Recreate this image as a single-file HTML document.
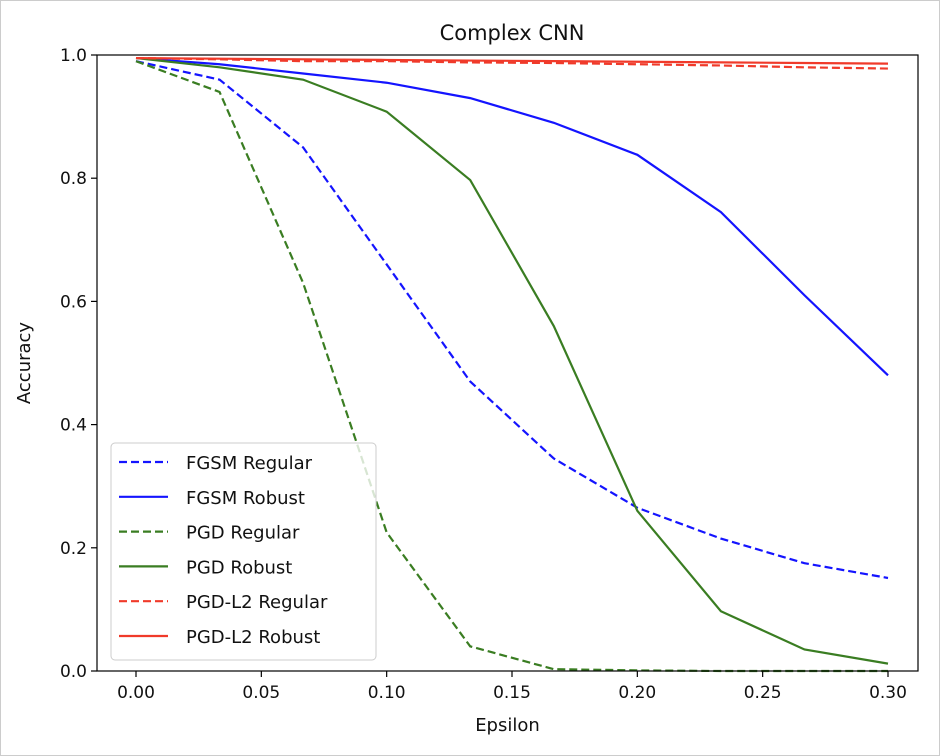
<!DOCTYPE html>
<html><head><meta charset="utf-8"><style>
body{margin:0;background:#fff}
svg{display:block;font-family:"DejaVu Sans","Liberation Sans",sans-serif}
</style></head><body>
<svg id="chart" width="940" height="756" xmlns="http://www.w3.org/2000/svg">
<rect x="0.5" y="0.5" width="939" height="755" fill="#fff" stroke="#ccc"/>
<text x="512" y="40" font-size="21" text-anchor="middle" fill="#111">Complex CNN</text>
<g id="plot"></g>
</svg>
<script>
const epsilons=[0,1/30,2/30,3/30,4/30,5/30,6/30,7/30,8/30,9/30];
const fgsmRegular=[0.99,0.96,0.85,0.66,0.47,0.345,0.265,0.215,0.175,0.151];
const fgsmRobust=[0.995,0.985,0.97,0.955,0.93,0.89,0.838,0.745,0.61,0.48];
const pgdRegular=[0.99,0.94,0.63,0.225,0.04,0.003,0.001,0,0,0];
const pgdRobust=[0.995,0.98,0.96,0.908,0.797,0.56,0.26,0.097,0.035,0.012];
const l2Regular=[0.995,0.993,0.99,0.99,0.988,0.987,0.985,0.983,0.98,0.978];
const l2Robust=[0.995,0.994,0.993,0.992,0.991,0.99,0.989,0.988,0.987,0.986];
const xTicks=[0,0.05,0.1,0.15,0.2,0.25,0.3];
const xTickLabels=["0.00","0.05","0.10","0.15","0.20","0.25","0.30"];
const yTicks=[0,0.2,0.4,0.6,0.8,1.0];
const yTickLabels=["0.0","0.2","0.4","0.6","0.8","1.0"];
const seriesNames=["FGSM Regular","FGSM Robust","PGD Regular","PGD Robust","PGD-L2 Regular","PGD-L2 Robust"];

const L=97,R=918,T=55,B=671;
const X=v=>136+v*(888-136)/0.3;
const Y=v=>B-v*(B-T);
const NS="http://www.w3.org/2000/svg";
const g=document.getElementById('plot');
function mk(t,a,txt){const e=document.createElementNS(NS,t);for(const k in a)e.setAttribute(k,a[k]);if(txt!==undefined)e.textContent=txt;g.appendChild(e);return e;}

const BLUE="#1414ff",GREEN="#3a7d22",RED="#f03a2a";
const series=[
 {d:fgsmRegular,c:BLUE,dash:true,n:'fgsm-regular-line'},
 {d:fgsmRobust,c:BLUE,dash:false,n:'fgsm-robust-line'},
 {d:pgdRegular,c:GREEN,dash:true,n:'pgd-regular-line'},
 {d:pgdRobust,c:GREEN,dash:false,n:'pgd-robust-line'},
 {d:l2Regular,c:RED,dash:true,n:'pgd-l2-regular-line'},
 {d:l2Robust,c:RED,dash:false,n:'pgd-l2-robust-line'}];
series.forEach(s=>{
 const p=mk('polyline',{points:s.d.map((v,i)=>X(epsilons[i])+','+Y(v)).join(' '),fill:'none',stroke:s.c,'stroke-width':2.2,'stroke-dasharray':s.dash?'8,4':'none'});
 
 
});
const ax=mk('rect',{x:L,y:T,width:R-L,height:B-T,fill:'none',stroke:'#000','stroke-width':1.2});


xTicks.forEach((v,i)=>{
 mk('line',{x1:X(v),x2:X(v),y1:B,y2:B+6,stroke:'#000','stroke-width':1.2});
 const t=mk('text',{x:X(v),y:B+27,'font-size':17,'text-anchor':'middle',fill:'#111'},xTickLabels[i]);
 
 
});
yTicks.forEach((v,i)=>{
 mk('line',{x1:L-6,x2:L,y1:Y(v),y2:Y(v),stroke:'#000','stroke-width':1.2});
 const t=mk('text',{x:L-10,y:Y(v)+6,'font-size':17,'text-anchor':'end',fill:'#111'},yTickLabels[i]);
 
 
});
const xl=mk('text',{x:(L+R)/2,y:731,'font-size':18,'text-anchor':'middle',fill:'#111'},'Epsilon');


const yl=mk('text',{x:0,y:0,'font-size':18,'text-anchor':'middle',fill:'#111',transform:'translate(30,363) rotate(-90)'},'Accuracy');


const lb=mk('rect',{x:111,y:443,width:265,height:217,rx:4,fill:'#fff','fill-opacity':0.8,stroke:'#ccc'});


series.forEach((s,i)=>{
 const y=462+i*34.8;
 mk('line',{x1:119,x2:168,y1:y,y2:y,stroke:s.c,'stroke-width':2.2,'stroke-dasharray':s.dash?'8,4':'none'});
 const t=mk('text',{x:186,y:y+7,'font-size':18,fill:'#111'},seriesNames[i]);
 
 
});
</script>
</body></html>
